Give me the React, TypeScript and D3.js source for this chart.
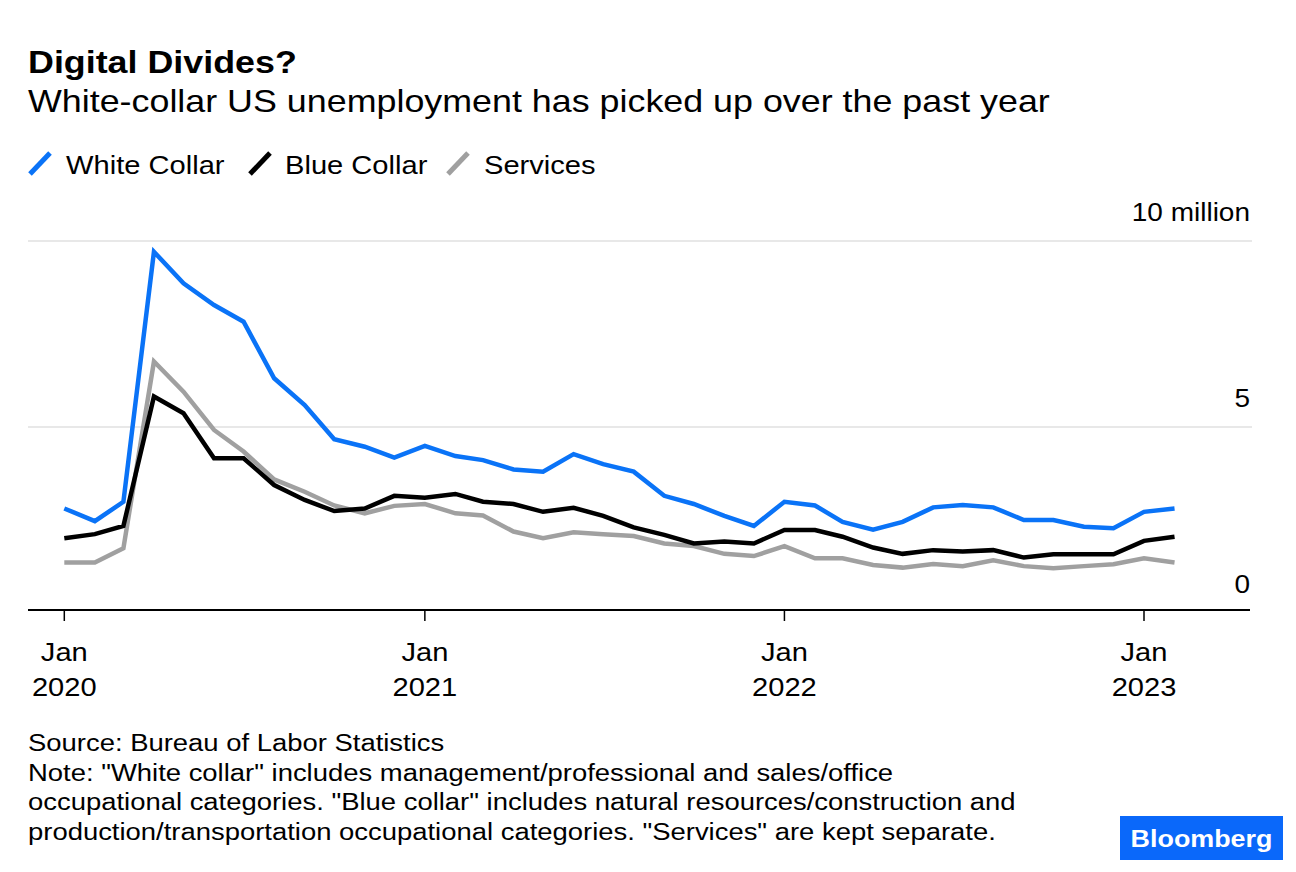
import React from "react";
import * as d3 from "d3";

const startYear = 2020;
const whiteCollar = [
  2.81, 2.47, 2.99, 9.71, 8.86, 8.28, 7.83, 6.31, 5.59, 4.67, 4.47, 4.18,
  4.49, 4.22, 4.11, 3.86, 3.8, 4.27, 4.0, 3.8, 3.15, 2.93, 2.61, 2.34,
  2.99, 2.89, 2.45, 2.24, 2.45, 2.84, 2.9, 2.84, 2.5, 2.5, 2.32, 2.28,
  2.72, 2.81,
];
const blueCollar = [
  2.01, 2.12, 2.34, 5.82, 5.37, 4.16, 4.16, 3.44, 3.04, 2.74, 2.81, 3.15,
  3.1, 3.2, 2.99, 2.93, 2.72, 2.83, 2.61, 2.3, 2.1, 1.87, 1.92, 1.87,
  2.23, 2.23, 2.05, 1.76, 1.59, 1.69, 1.65, 1.69, 1.49, 1.58, 1.58, 1.58,
  1.94, 2.05,
];
const services = [
  1.36, 1.36, 1.74, 6.76, 5.95, 4.92, 4.34, 3.59, 3.26, 2.89, 2.68, 2.88,
  2.93, 2.68, 2.62, 2.19, 2.01, 2.17, 2.12, 2.07, 1.87, 1.8, 1.59, 1.53,
  1.8, 1.47, 1.47, 1.29, 1.22, 1.32, 1.26, 1.42, 1.26, 1.2, 1.26, 1.31,
  1.47, 1.36,
];
const yTicks = [0, 5, 10];
const yTickLabels = ["0", "5", "10 million"];
const xTickYears = [2020, 2021, 2022, 2023];

const seriesNames = ["White Collar", "Blue Collar", "Services"];
const seriesColors = ["#0a73f7", "#000000", "#a0a0a0"];

const title = "Digital Divides?";
const subtitle = "White-collar US unemployment has picked up over the past year";
const footer = [
  "Source: Bureau of Labor Statistics",
  'Note: "White collar" includes management/professional and sales/office',
  'occupational categories. "Blue collar" includes natural resources/construction and',
  'production/transportation occupational categories. "Services" are kept separate.',
];

const FONT = "'Liberation Sans', Arial, Helvetica, sans-serif";
const SX = 1.12;

function T(props: {
  x: number;
  y: number;
  size: number;
  anchor?: string;
  weight?: string | number;
  fill?: string;
  children: React.ReactNode;
}) {
  const { x, y, size, anchor = "start", weight = "normal", fill = "#000", children } = props;
  return (
    <text
      transform={`translate(${x},${y}) scale(${SX},1)`}
      fontFamily={FONT}
      fontSize={size}
      fontWeight={weight}
      textAnchor={anchor}
      fill={fill}
    >
      {children}
    </text>
  );
}

export default function App() {
  const W = 1296;
  const H = 872;
  const left = 28;
  const right = 1252;
  const axisY = 610;

  const dates = whiteCollar.map((_, i) => new Date(startYear, i, 1));
  const x = d3
    .scaleTime()
    .domain([new Date(2020, 0, 1), new Date(2023, 0, 1)])
    .range([64.3, 1144]);
  const y = d3.scaleLinear().domain([0, 10]).range([613, 241]);

  const line = d3
    .line<number>()
    .x((_, i) => x(dates[i]))
    .y((d) => y(d));

  const series = [whiteCollar, blueCollar, services];
  const drawOrder = [2, 1, 0];

  const legendSlashX = [30, 250, 448];
  const legendTextX = [66, 285, 484];

  return (
    <svg
      width={W}
      height={H}
      viewBox={`0 0 ${W} ${H}`}
      style={{ position: "absolute", left: 0, top: 0, background: "#fff" }}
    >
      <rect x={0} y={0} width={W} height={H} fill="#fff" />
      <T x={28} y={73} size={32} weight="bold">
        {title}
      </T>
      <T x={28} y={112} size={32}>
        {subtitle}
      </T>

      {seriesNames.map((name, i) => (
        <g key={name}>
          <line
            x1={legendSlashX[i]}
            y1={174}
            x2={legendSlashX[i] + 20}
            y2={153}
            stroke={seriesColors[i]}
            strokeWidth={5}
          />
          <T x={legendTextX[i]} y={174} size={26}>
            {name}
          </T>
        </g>
      ))}

      {yTicks.map((t, i) => (
        <g key={t}>
          {t !== 0 && (
            <line x1={left} x2={right} y1={y(t)} y2={y(t)} stroke="#e8e8e8" strokeWidth={2} />
          )}
          <T x={1250} y={y(t) - 20} size={25} anchor="end">
            {yTickLabels[i]}
          </T>
        </g>
      ))}

      {drawOrder.map((si) => (
        <path
          key={si}
          d={line(series[si]) || ""}
          fill="none"
          stroke={seriesColors[si]}
          strokeWidth={4.5}
          strokeLinejoin="miter"
          strokeMiterlimit={4}
        />
      ))}

      <line x1={left} x2={1250} y1={axisY} y2={axisY} stroke="#000" strokeWidth={2} />
      {xTickYears.map((yr) => {
        const tx = x(new Date(yr, 0, 1));
        return (
          <g key={yr}>
            <line x1={tx} x2={tx} y1={axisY} y2={axisY + 11} stroke="#000" strokeWidth={1.5} />
            <T x={tx} y={661} size={26} anchor="middle">
              Jan
            </T>
            <T x={tx} y={696} size={26} anchor="middle">
              {String(yr)}
            </T>
          </g>
        );
      })}

      {footer.map((s, i) => (
        <T key={i} x={28} y={751 + i * 29.6} size={24.5}>
          {s}
        </T>
      ))}

      <rect x={1120} y={816} width={163} height={44} fill="#0a68fa" />
      <T x={1201.5} y={847} size={24} anchor="middle" weight="bold" fill="#fff">
        Bloomberg
      </T>
    </svg>
  );
}
